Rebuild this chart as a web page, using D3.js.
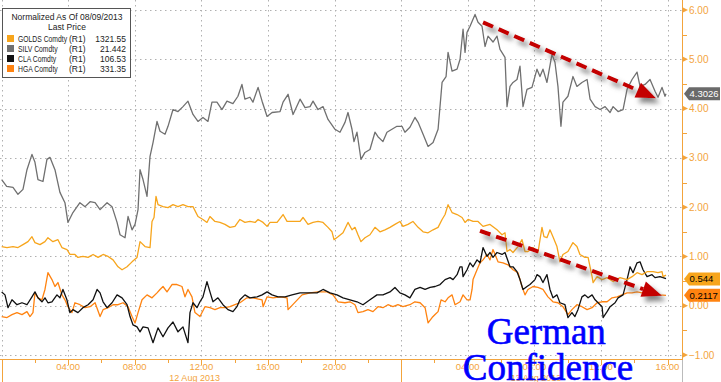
<!DOCTYPE html>
<html>
<head>
<meta charset="utf-8">
<script src="https://d3js.org/d3.v7.min.js"></script>
<style>
  body { margin: 0; background: #fff; }
  svg { display: block; font-family: "Liberation Sans", Arial, sans-serif; }
</style>
</head>
<body>
<script>

// hours since 12 Aug 2013 00:00, normalized value
var goldSeries = [[0.01,1.20],[0.33,1.18],[0.69,1.20],[0.99,1.18],[1.29,1.24],[1.59,1.30],[1.83,1.40],[2.01,1.28],[2.31,1.24],[2.61,1.30],[2.79,1.38],[3.09,1.30],[3.39,1.34],[3.63,1.18],[3.93,1.14],[4.11,1.04],[4.41,1.04],[4.59,0.98],[4.89,1.00],[5.2,0.98],[5.5,1.04],[5.8,0.98],[6.1,1.04],[6.4,1.00],[6.7,0.93],[7.0,0.79],[7.24,0.73],[7.54,0.79],[7.84,0.89],[8.14,0.98],[8.32,1.30],[8.62,1.20],[8.92,1.18],[9.04,1.71],[9.16,1.79],[9.28,2.22],[9.4,2.05],[9.7,2.01],[10.0,1.99],[10.3,2.05],[10.6,2.01],[10.9,2.05],[11.2,2.01],[11.5,2.01],[11.8,1.81],[12.1,1.75],[12.34,1.69],[12.52,1.81],[12.82,1.71],[13.12,1.69],[13.42,1.65],[13.72,1.59],[14.02,1.61],[14.32,1.75],[14.62,1.69],[14.92,1.71],[15.23,1.69],[15.41,1.75],[15.71,1.69],[15.95,1.61],[16.13,1.69],[16.55,1.69],[16.91,1.85],[17.15,1.71],[17.51,1.71],[17.93,1.71],[18.11,1.79],[18.41,1.65],[18.71,1.69],[19.01,1.71],[19.31,1.69],[19.61,1.59],[19.85,1.50],[19.97,1.34],[20.21,1.40],[20.51,1.48],[20.81,1.69],[21.05,1.54],[21.23,1.59],[21.41,1.44],[21.59,1.30],[21.83,1.38],[22.13,1.44],[22.43,1.59],[22.73,1.50],[23.03,1.54],[23.33,1.59],[23.63,1.65],[23.93,1.71],[24.11,1.61],[24.41,1.65],[24.71,1.71],[25.02,1.59],[25.32,1.50],[25.62,1.48],[25.92,1.54],[26.22,1.59],[26.46,1.75],[26.64,1.85],[26.82,2.05],[27.06,1.89],[27.36,1.85],[27.66,1.79],[27.84,1.69],[28.02,1.75],[28.32,1.71],[28.62,1.71],[28.92,1.61],[29.34,1.65],[29.76,1.54],[30.06,1.44],[30.24,1.48],[30.36,1.10],[30.54,1.14],[30.72,1.08],[31.02,1.20],[31.26,1.34],[31.44,1.10],[31.62,1.10],[31.92,1.18],[32.22,1.08],[32.46,1.59],[32.58,1.40],[32.76,1.38],[32.94,1.54],[33.12,1.40],[33.36,1.20],[33.54,0.89],[33.72,1.04],[34.02,1.10],[34.32,1.28],[34.56,1.20],[34.74,1.04],[35.04,0.98],[35.23,0.98],[35.47,0.59],[35.53,0.47],[35.77,0.59],[36.07,0.53],[36.37,0.57],[36.73,0.49],[37.15,0.57],[37.57,0.53],[37.87,0.59],[38.17,0.67],[38.47,0.63],[38.77,0.69],[39.13,0.69],[39.43,0.67],[39.67,0.69],[39.73,0.59],[39.91,0.62]];

var silvSeries = [[0.01,2.56],[0.31,2.42],[0.69,2.40],[0.99,2.26],[1.29,2.36],[1.53,2.76],[1.83,3.07],[2.01,2.91],[2.19,2.56],[2.49,2.52],[2.73,2.97],[2.91,3.01],[3.21,2.76],[3.51,2.30],[3.81,2.09],[3.99,1.69],[4.29,1.89],[4.71,2.09],[5.02,2.01],[5.32,2.11],[5.62,2.09],[5.92,1.95],[6.34,2.09],[6.64,2.01],[6.94,1.69],[7.12,1.44],[7.42,1.38],[7.6,1.81],[7.84,1.54],[8.02,1.65],[8.2,1.95],[8.32,2.76],[8.5,2.56],[8.74,2.22],[8.92,3.03],[9.1,3.31],[9.34,3.74],[9.52,3.54],[9.82,3.48],[10.0,3.64],[10.3,3.98],[10.6,3.94],[10.9,4.04],[11.2,4.15],[11.5,3.88],[11.8,3.74],[12.1,3.82],[12.4,3.74],[12.64,4.13],[12.94,4.13],[13.24,3.98],[13.54,4.15],[13.9,4.10],[14.2,4.25],[14.44,4.49],[14.62,4.19],[14.92,4.23],[15.1,4.13],[15.41,4.43],[15.65,4.15],[15.95,3.84],[16.25,3.92],[16.73,3.94],[16.91,4.13],[17.21,4.29],[17.51,3.88],[17.93,4.19],[18.23,4.02],[18.53,4.04],[18.71,4.15],[19.01,3.98],[19.31,4.04],[19.61,3.78],[20.03,3.58],[20.33,3.52],[20.63,3.72],[20.81,3.92],[21.05,3.58],[21.17,3.33],[21.35,3.52],[21.59,2.97],[21.83,3.11],[22.13,3.17],[22.43,3.52],[22.61,3.43],[22.91,3.33],[23.15,3.52],[23.45,3.58],[23.75,3.64],[24.05,3.64],[24.23,3.52],[24.53,3.62],[24.83,3.82],[25.02,3.72],[25.32,3.48],[25.62,3.23],[25.92,3.31],[26.22,3.58],[26.46,4.53],[26.7,4.65],[26.82,5.14],[27.06,4.76],[27.36,4.80],[27.54,5.00],[27.72,5.61],[27.84,5.14],[27.96,5.55],[28.14,5.67],[28.44,5.91],[28.62,5.75],[28.86,5.67],[29.04,5.26],[29.22,5.47],[29.52,5.35],[29.76,5.47],[29.94,5.20],[30.24,5.04],[30.36,4.04],[30.54,4.45],[30.72,4.53],[30.96,4.59],[31.14,4.86],[31.32,4.04],[31.56,4.39],[31.86,4.43],[32.16,4.80],[32.34,4.65],[32.52,4.80],[32.76,4.53],[33.06,5.10],[33.24,4.94],[33.42,4.45],[33.6,3.64],[33.72,4.13],[34.02,4.25],[34.32,4.65],[34.56,4.45],[34.86,4.53],[35.17,4.59],[35.35,4.19],[35.65,4.04],[35.95,3.98],[36.25,4.04],[36.55,3.92],[36.73,4.04],[37.03,3.94],[37.33,3.98],[37.57,4.39],[37.87,4.59],[38.17,4.74],[38.35,4.45],[38.65,4.49],[38.95,4.59],[39.25,4.35],[39.43,4.23],[39.67,4.43],[39.85,4.25],[39.91,4.30]];

var claSeries = [[0.01,0.28],[0.21,0.22],[0.39,-0.04],[0.63,0.12],[0.93,0.02],[1.23,0.06],[1.53,0.02],[1.83,0.18],[2.01,0.28],[2.19,0.16],[2.43,0.08],[2.61,0.16],[2.79,0.06],[3.03,0.08],[3.33,0.22],[3.51,0.16],[3.69,0.33],[3.93,0.12],[4.11,-0.14],[4.29,-0.08],[4.59,-0.14],[4.89,-0.04],[5.2,0.02],[5.5,0.12],[5.74,0.33],[5.92,0.26],[6.1,0.08],[6.34,-0.04],[6.64,0.06],[6.94,0.22],[7.24,0.16],[7.54,0.02],[7.72,-0.22],[7.9,-0.39],[8.14,-0.43],[8.32,-0.53],[8.5,-0.43],[8.8,-0.45],[9.1,-0.75],[9.4,-0.45],[9.7,-0.63],[10.0,-0.45],[10.3,-0.33],[10.6,-0.53],[10.9,-0.43],[11.2,-0.75],[11.32,-0.14],[11.5,0.06],[11.74,-0.04],[11.92,0.08],[12.1,0.18],[12.34,0.49],[12.52,0.28],[12.7,0.08],[13.0,0.16],[13.3,0.02],[13.6,-0.08],[13.9,-0.12],[14.14,-0.02],[14.32,0.12],[14.62,0.22],[14.92,0.16],[15.35,0.18],[15.65,0.22],[15.95,0.28],[16.25,0.22],[16.61,0.18],[17.03,0.18],[17.45,0.22],[17.93,0.26],[18.41,0.26],[18.95,0.26],[19.31,0.33],[19.73,0.26],[20.15,0.22],[20.51,0.16],[20.93,0.12],[21.35,0.08],[21.71,0.02],[22.13,0.12],[22.55,0.22],[22.91,0.22],[23.33,0.28],[23.63,0.37],[23.93,0.26],[24.23,0.22],[24.53,0.16],[24.83,0.33],[25.14,0.37],[25.44,0.33],[25.74,0.37],[26.04,0.39],[26.34,0.43],[26.64,0.53],[26.94,0.57],[27.12,0.53],[27.36,0.63],[27.54,0.79],[27.66,0.79],[27.72,0.59],[27.96,0.73],[28.14,0.87],[28.32,0.79],[28.56,0.93],[28.74,0.87],[28.92,1.18],[29.16,1.00],[29.34,1.08],[29.52,0.98],[29.76,1.08],[30.06,1.04],[30.24,1.08],[30.54,0.79],[30.72,0.79],[30.96,0.69],[31.14,0.53],[31.32,0.33],[31.56,0.39],[31.74,0.43],[32.04,0.53],[32.16,0.63],[32.34,0.59],[32.52,0.47],[32.76,0.63],[32.94,0.33],[33.12,0.16],[33.36,0.22],[33.54,0.06],[33.84,0.02],[34.02,-0.24],[34.26,-0.14],[34.44,-0.22],[34.62,-0.08],[34.86,0.18],[35.04,0.22],[35.23,0.16],[35.47,0.22],[35.65,0.12],[35.83,0.06],[36.07,-0.02],[36.13,-0.24],[36.37,-0.12],[36.55,-0.02],[36.85,0.06],[37.03,0.16],[37.33,0.22],[37.57,0.53],[37.75,0.79],[37.93,0.67],[38.17,0.87],[38.35,0.89],[38.53,0.73],[38.77,0.59],[39.07,0.63],[39.25,0.57],[39.55,0.59],[39.73,0.57],[39.91,0.55]];

var hgaSeries = [[0.01,-0.22],[0.33,-0.24],[0.63,-0.18],[0.93,-0.14],[1.23,-0.18],[1.53,-0.12],[1.71,-0.22],[1.89,-0.14],[2.01,0.26],[2.19,0.16],[2.43,0.12],[2.61,0.33],[2.79,0.67],[3.03,0.53],[3.21,0.39],[3.39,0.47],[3.63,0.22],[3.81,0.12],[3.99,-0.02],[4.23,-0.14],[4.41,0.06],[4.71,0.02],[5.02,-0.04],[5.32,-0.02],[5.62,0.06],[5.92,-0.22],[6.1,-0.08],[6.4,-0.04],[6.7,0.02],[7.0,0.02],[7.3,0.06],[7.6,-0.02],[7.84,-0.22],[8.02,-0.35],[8.2,-0.14],[8.44,0.12],[8.74,0.22],[9.04,0.16],[9.34,0.26],[9.52,0.33],[9.7,0.39],[9.94,0.28],[10.24,0.43],[10.54,0.43],[10.84,0.39],[11.02,0.18],[11.2,0.33],[11.44,0.18],[11.62,-0.14],[11.92,-0.22],[12.22,-0.02],[12.52,-0.04],[12.82,-0.08],[13.12,-0.04],[13.42,-0.04],[13.72,-0.02],[14.02,0.02],[14.32,0.06],[14.74,0.16],[15.1,0.16],[15.65,0.12],[15.71,-0.02],[15.95,0.18],[16.31,0.16],[16.73,0.18],[17.15,0.16],[17.21,-0.08],[18.05,0.22],[18.53,0.26],[19.01,0.28],[19.55,0.28],[19.91,0.22],[20.21,0.08],[20.63,0.06],[20.93,0.08],[21.23,0.02],[21.41,-0.14],[21.71,-0.12],[22.01,-0.08],[22.31,-0.12],[22.61,-0.02],[22.91,-0.04],[23.21,0.02],[23.51,-0.02],[23.81,0.02],[24.11,-0.02],[24.53,0.02],[24.83,0.08],[25.14,0.06],[25.44,-0.04],[25.62,-0.35],[25.86,-0.24],[26.04,-0.18],[26.22,-0.12],[26.4,0.12],[26.64,0.08],[26.82,0.16],[27.06,0.22],[27.24,0.02],[27.54,0.08],[27.72,0.22],[27.96,0.12],[28.14,0.12],[28.26,0.33],[28.32,0.53],[28.56,0.73],[28.74,0.87],[28.92,0.93],[29.16,1.04],[29.34,0.93],[29.52,1.14],[29.82,0.89],[30.12,0.87],[30.42,0.83],[30.72,0.73],[31.02,0.67],[31.26,0.39],[31.44,0.22],[31.62,0.33],[31.92,0.39],[32.22,0.37],[32.52,0.33],[32.82,0.18],[33.12,0.08],[33.42,0.06],[33.72,-0.02],[34.02,-0.18],[34.26,-0.08],[34.56,0.02],[34.86,-0.02],[35.17,-0.08],[35.47,-0.04],[35.77,0.06],[36.07,0.08],[36.37,0.08],[36.67,0.16],[36.97,0.18],[37.27,0.22],[37.57,0.26],[37.87,0.26],[38.17,0.28],[38.47,0.26],[38.77,0.28],[39.13,0.26],[39.55,0.22],[39.91,0.21]];

var legendNames = ["GOLDS Comdty", "SILV Comdty", "CLA Comdty", "HGA Comdty"];
var legendPrices = ["1321.55", "21.442", "106.53", "331.35"];
var lastValues = [0.544, 4.3026, null, 0.2117];
var lastLabels = ["0.544", "4.3026", null, "0.2117"];
var colors = ["#f7a51c", "#707070", "#111111", "#ff8310"];
var labelText = ["#000", "#fff", "#fff", "#000"];

var yTicks = [-1, 0, 1, 2, 3, 4, 5, 6];
var startDate = new Date(2013, 7, 12, 0, 0);
var endHours = 40.87;
var eventHours = 28.0;                     // German ZEW confidence release
var arrows = [[[28.92, 5.75], [39.31, 4.21]], [[28.74, 1.52], [39.67, 0.20]]];
var dayLabels = [[11.6, "12 Aug 2013"], [32.1, "13 Aug 2013"]];

function toDate(h) { return new Date(startDate.getTime() + h * 3600000); }

var W = 721, H = 382;
var x = d3.scaleTime().domain([startDate, toDate(endHours)]).range([1.5, 682]);
var y = d3.scaleLinear().domain([-1, 6]).range([355, 10]);
var axisColor = "#f3a43c";

var svg = d3.select("body").append("svg").attr("width", W).attr("height", H);

var defs = svg.append("defs");
var f = defs.append("filter").attr("id", "shadow").attr("x", "-20%").attr("y", "-20%").attr("width", "150%").attr("height", "150%");
f.append("feDropShadow").attr("dx", 4).attr("dy", 5).attr("stdDeviation", 2.5)
  .attr("flood-color", "#666").attr("flood-opacity", 0.8);
var f2 = defs.append("filter").attr("id", "vshadow").attr("x", "-200%").attr("y", "-5%").attr("width", "500%").attr("height", "110%");
f2.append("feDropShadow").attr("dx", 6).attr("dy", 3).attr("stdDeviation", 2)
  .attr("flood-color", "#888").attr("flood-opacity", 0.7);

// grid
var hourTicks = x.ticks(d3.timeHour.every(4));
svg.append("g").selectAll("line").data(hourTicks).enter().append("line")
  .attr("x1", function(d) { return Math.round(x(d)) + 0.5; })
  .attr("x2", function(d) { return Math.round(x(d)) + 0.5; })
  .attr("y1", 0).attr("y2", 358)
  .attr("stroke", "#b0b0b0").attr("stroke-dasharray", "1.5,3.5");
svg.append("g").selectAll("line").data(yTicks).enter().append("line")
  .attr("x1", 0).attr("x2", 682)
  .attr("y1", function(d) { return Math.round(y(d)) + 0.5; })
  .attr("y2", function(d) { return Math.round(y(d)) + 0.5; })
  .attr("stroke", "#b0b0b0").attr("stroke-dasharray", "1.5,3.5");

// series
var line = d3.line()
  .x(function(d) { return x(toDate(d[0])); })
  .y(function(d) { return y(d[1]); });
var seriesList = [silvSeries, hgaSeries, claSeries, goldSeries];
var seriesColors = [colors[1], colors[3], colors[2], colors[0]];
svg.append("g").selectAll("path").data(seriesList).enter().append("path")
  .attr("d", line)
  .attr("fill", "none")
  .attr("stroke", function(d, i) { return seriesColors[i]; })
  .attr("stroke-width", 1.3)
  .attr("stroke-linejoin", "round");

// right axis
var ax = svg.append("g");
ax.append("line").attr("x1", 682.5).attr("x2", 682.5).attr("y1", 0).attr("y2", 360)
  .attr("stroke", axisColor);
ax.append("line").attr("x1", 682.5).attr("x2", 682.5).attr("y1", 360).attr("y2", H)
  .attr("stroke", "#bbb");
ax.selectAll(".minor").data(d3.range(-0.5, 6.5, 1)).enter().append("line")
  .attr("x1", 683).attr("x2", 687)
  .attr("y1", function(d) { return Math.round(y(d)) + 0.5; })
  .attr("y2", function(d) { return Math.round(y(d)) + 0.5; })
  .attr("stroke", axisColor);
ax.selectAll(".tri").data(yTicks).enter().append("path")
  .attr("d", function(d) { var yy = y(d); return "M683," + (yy - 2.5) + "L688," + yy + "L683," + (yy + 2.5) + "Z"; })
  .attr("fill", axisColor);
ax.selectAll(".lab").data(yTicks).enter().append("text")
  .attr("x", 689).attr("y", function(d) { return y(d) + 3.5; })
  .attr("font-size", 10).attr("fill", axisColor)
  .text(d3.format(".2f"));

// bottom axis
var bx = svg.append("g");
bx.append("line").attr("x1", 0).attr("x2", 683).attr("y1", 359.5).attr("y2", 359.5).attr("stroke", axisColor);
bx.selectAll(".mt").data(x.ticks(d3.timeHour.every(2))).enter().append("line")
  .attr("x1", function(d) { return Math.round(x(d)) + 0.5; })
  .attr("x2", function(d) { return Math.round(x(d)) + 0.5; })
  .attr("y1", 360).attr("y2", function(d) { return d.getHours() === 0 ? H : (d.getHours() % 4 === 0 ? 365 : 363); })
  .attr("stroke", axisColor);
bx.selectAll(".tl").data(hourTicks.filter(function(d) { return d.getHours() !== 0; })).enter().append("text")
  .attr("x", function(d) { return x(d); }).attr("y", 370)
  .attr("text-anchor", "middle").attr("font-size", 9.5).attr("fill", axisColor)
  .text(d3.timeFormat("%H:%M"));
bx.selectAll(".dl").data(dayLabels).enter().append("text")
  .attr("x", function(d) { return x(toDate(d[0])); }).attr("y", 381)
  .attr("text-anchor", "middle").attr("font-size", 9).attr("fill", axisColor)
  .text(function(d) { return d[1]; });

// last value tags
var tags = svg.append("g").selectAll("g").data(d3.range(4).filter(function(i) { return lastValues[i] !== null; }))
  .enter().append("g");
tags.append("path")
  .attr("d", function(i) { var yy = y(lastValues[i]); return "M684," + yy + "L689," + (yy - 6.5) + "L720," + (yy - 6.5) + "L720," + (yy + 6.5) + "L689," + (yy + 6.5) + "Z"; })
  .attr("fill", function(i) { return i === 1 ? "#6a6a6a" : colors[i]; });
tags.append("text")
  .attr("x", 689.5).attr("y", function(i) { return y(lastValues[i]) + 3.5; })
  .attr("font-size", 9.5).attr("fill", function(i) { return labelText[i]; })
  .text(function(i) { return lastLabels[i]; });

// legend
var lg = svg.append("g").attr("transform", "translate(2,8)");
lg.append("rect").attr("x", 0.5).attr("y", 0.5).attr("width", 128).attr("height", 69)
  .attr("fill", "#fff").attr("stroke", "#555");
lg.append("text").attr("x", 65).attr("y", 12).attr("text-anchor", "middle").attr("font-size", 8.5).attr("fill", "#222")
  .text("Normalized As Of 08/09/2013");
lg.append("text").attr("x", 65).attr("y", 22).attr("text-anchor", "middle").attr("font-size", 8.5).attr("fill", "#222")
  .text("Last Price");
var rows = lg.selectAll(".row").data(legendNames).enter().append("g")
  .attr("transform", function(d, i) { return "translate(0," + (26 + i * 10) + ")"; });
rows.append("rect").attr("x", 5).attr("y", 1).attr("width", 7).attr("height", 7)
  .attr("fill", function(d, i) { return colors[i]; });
rows.append("text").attr("x", 16).attr("y", 8).attr("font-size", 8.5).attr("fill", "#222")
  .attr("lengthAdjust", "spacingAndGlyphs")
  .text(function(d) { return d; })
  .each(function() { this.setAttribute("textLength", (this.getComputedTextLength() * 0.8).toFixed(1)); });
rows.append("text").attr("x", 67).attr("y", 8).attr("font-size", 8.5).attr("fill", "#222").text("(R1)");
rows.append("text").attr("x", 124).attr("y", 8).attr("text-anchor", "end").attr("font-size", 8.5).attr("fill", "#222")
  .text(function(d, i) { return legendPrices[i]; });

// annotations
var ex = x(toDate(eventHours));
svg.append("line").attr("x1", ex).attr("x2", ex).attr("y1", 6).attr("y2", H)
  .attr("stroke", "#0000ff").attr("stroke-width", 5).attr("stroke-dasharray", "15,5")
  .attr("filter", "url(#vshadow)");

var ag = svg.append("g").attr("filter", "url(#shadow)");
arrows.forEach(function(a) {
  var x0 = x(toDate(a[0][0])), y0 = y(a[0][1]), x1 = x(toDate(a[1][0])), y1 = y(a[1][1]);
  var ang = Math.atan2(y1 - y0, x1 - x0), len = 20, hw = 8;
  var bx0 = x1 - len * Math.cos(ang), by0 = y1 - len * Math.sin(ang);
  ag.append("line").attr("x1", x0).attr("y1", y0).attr("x2", bx0).attr("y2", by0)
    .attr("stroke", "#c40000").attr("stroke-width", 4).attr("stroke-dasharray", "11,6");
  ag.append("path")
    .attr("d", "M" + x1 + "," + y1 +
      "L" + (bx0 - hw * Math.sin(ang)) + "," + (by0 + hw * Math.cos(ang)) +
      "L" + (bx0 + hw * Math.sin(ang)) + "," + (by0 - hw * Math.cos(ang)) + "Z")
    .attr("fill", "#c40000");
});

svg.append("text").attr("x", ex + 19).attr("y", 344)
  .attr("font-family", "'Liberation Serif', 'Times New Roman', serif").attr("font-size", 37)
  .attr("fill", "#0000ff").attr("stroke", "#0000ff").attr("stroke-width", 0.6)
  .text("German");
svg.append("text").attr("x", ex - 5).attr("y", 380)
  .attr("font-family", "'Liberation Serif', 'Times New Roman', serif").attr("font-size", 37)
  .attr("fill", "#0000ff").attr("stroke", "#0000ff").attr("stroke-width", 0.6)
  .text("Confidence");

</script>
</body>
</html>
